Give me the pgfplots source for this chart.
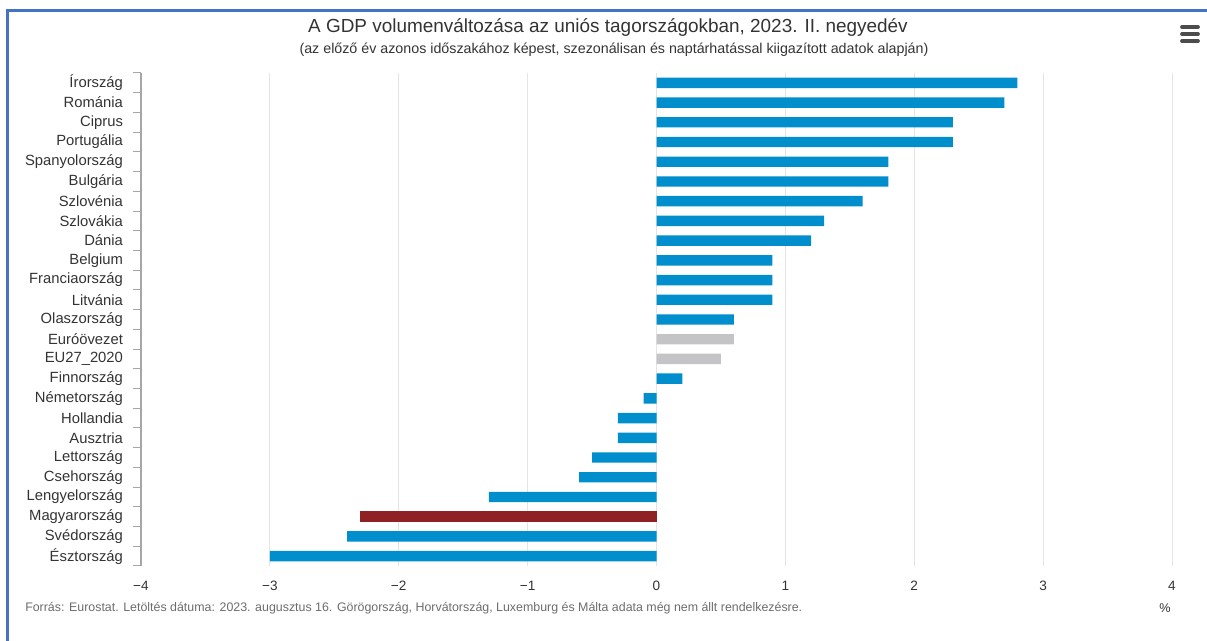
\documentclass[border=0pt]{standalone}
\usepackage{pgfplots}
\pgfplotsset{compat=1.18}
\usepackage{fontspec}
\setmainfont{Liberation Sans}

\definecolor{barblue}{RGB}{0,142,204}
\definecolor{barred}{RGB}{143,32,36}
\definecolor{bargray}{RGB}{196,196,198}
\definecolor{framblue}{RGB}{68,114,196}
\definecolor{txt}{RGB}{51,51,51}
\definecolor{gridc}{RGB}{228,228,228}

\begin{document}
\begin{tikzpicture}
\begin{scope}[x=0.75pt,y=0.75pt]
\useasboundingbox (0,0) rectangle (1207,641);
% frame
\draw[framblue, line width=1.6pt] (7.5,0) -- (7.5,630.5) -- (1207,630.5);
% menu icon
\foreach \yy in {614,607,600} \draw[gray!60!black, line width=2.8pt, line cap=round] (1182,\yy) -- (1198,\yy);
% titles
\node[txt, font=\fontsize{14.2pt}{16pt}\selectfont] at (608,613) {A GDP volumenváltozása az uniós tagországokban, 2023. II. negyedév};
\node[txt, font=\fontsize{10.7pt}{12pt}\selectfont] at (614,591) {(az előző év azonos időszakához képest, szezonálisan és naptárhatással kiigazított adatok alapján)};
\node[anchor=west, inner sep=0pt, text=gray!85!black, font=\fontsize{9.3pt}{11pt}\selectfont] at (25,33) {Forrás: Eurostat. Letöltés dátuma: 2023. augusztus 16. Görögország, Horvátország, Luxemburg és Málta adata még nem állt rendelkezésre.};
\node[txt, font=\fontsize{9.5pt}{11pt}\selectfont] at (1165,33) {\%};
\end{scope}

\begin{axis}[
  at={(105.75pt,56.25pt)}, anchor=south west,
  scale only axis, width=773.25pt, height=369.75pt,
  xbar, bar width=7.8pt, bar shift=0pt,
  xmin=-4, xmax=4, ymin=-0.5, ymax=24.5,
  xtick={-4,...,4},
  xticklabels={−4,−3,−2,−1,0,1,2,3,4},
  xmajorgrids, major grid style={gridc, line width=0.75pt},
  extra x ticks={0}, extra x tick labels={},
  extra x tick style={grid style={gray!75, line width=1.1pt}},
  ytick={0,...,24},
  yticklabels={Észtország,Svédország,Magyarország,Lengyelország,Csehország,Lettország,Ausztria,Hollandia,Németország,Finnország,EU27\_2020,Euróövezet,Olaszország,Litvánia,Franciaország,Belgium,Dánia,Szlovákia,Szlovénia,Bulgária,Spanyolország,Portugália,Ciprus,Románia,Írország},
  minor ytick={-0.5,0.5,...,24.5},
  major tick length=0pt, minor tick length=6pt,
  tick align=outside, ytick pos=left,
  minor y tick style={gray!70, line width=0.75pt},
  x tick style={draw=none},
  axis lines*=left, axis line style={-},
  x axis line style={draw=none},
  y axis line style={gray!70, line width=1pt},
  ticklabel style={txt},
  yticklabel style={font=\fontsize{11.1pt}{12pt}\selectfont, xshift=-10pt},
  xticklabel style={font=\fontsize{10.2pt}{12pt}\selectfont, yshift=-8pt},
]
\addplot[fill=barblue, draw=none] coordinates {
(-3.0,0) (-2.4,1) (-1.3,3) (-0.6,4) (-0.5,5) (-0.3,6) (-0.3,7) (-0.1,8) (0.2,9)
(0.6,12) (0.9,13) (0.9,14) (0.9,15) (1.2,16) (1.3,17) (1.6,18) (1.8,19) (1.8,20)
(2.3,21) (2.3,22) (2.7,23) (2.8,24)};
\addplot[fill=barred, draw=none] coordinates {(-2.3,2)};
\addplot[fill=bargray, draw=none] coordinates {(0.5,10) (0.6,11)};
\end{axis}
\end{tikzpicture}
\end{document}
